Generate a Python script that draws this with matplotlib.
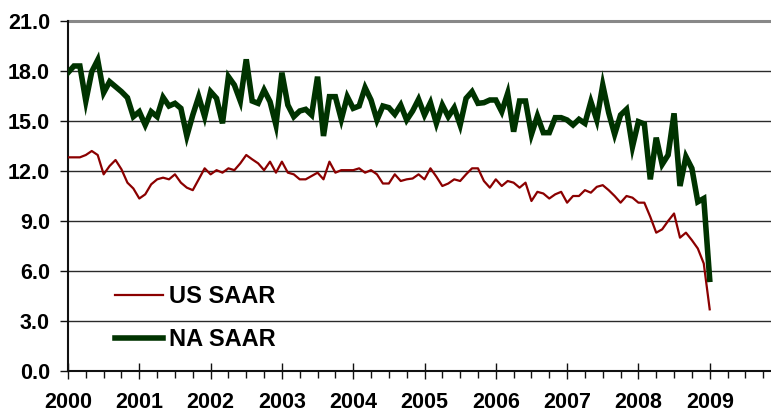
import matplotlib
matplotlib.use("Agg")
import matplotlib.pyplot as plt
import numpy as np
from matplotlib.ticker import MultipleLocator, FormatStrFormatter

plt.rcParams['font.family'] = ['Liberation Sans', 'DejaVu Sans']

# Monthly data, Jan 2000 .. Jan 2009 (millions of units, SAAR)
start_year = 2000
na_saar = [
    17.9, 18.3, 18.3, 16.2, 17.96, 18.66, 16.7, 17.36, 17.06, 16.76, 16.4, 15.26,
    15.56, 14.76, 15.56, 15.26, 16.42, 15.9, 16.06, 15.76, 14.1, 15.36, 16.46, 15.26,
    16.76, 16.36, 14.86, 17.66, 17.16, 16.2, 18.7, 16.2, 16.06, 16.86, 16.16, 14.76,
    17.9, 15.96, 15.26, 15.6, 15.7, 15.36, 17.66, 14.1, 16.46, 16.46, 15.1, 16.46,
    15.76, 15.9, 17.0, 16.26, 15.06, 15.9, 15.8, 15.4, 15.96, 15.06, 15.6, 16.3,
    15.36, 16.1, 14.86, 15.96, 15.26, 15.8, 14.76, 16.36, 16.76, 16.06, 16.1, 16.26,
    16.26, 15.56, 16.66, 14.36, 16.2, 16.2, 14.2, 15.3, 14.3, 14.3, 15.2, 15.2,
    15.06, 14.76, 15.1, 14.86, 16.16, 15.06, 17.16, 15.5, 14.2, 15.36, 15.7, 13.45,
    14.96, 14.82, 11.5, 14.0, 12.4, 12.96, 15.46, 11.1, 12.86, 12.16, 10.15, 10.35,
    5.5,
]
us_saar = [
    12.82, 12.82, 12.82, 12.96, 13.2, 12.96, 11.8, 12.3, 12.66, 12.1, 11.3, 10.95,
    10.35, 10.6, 11.2, 11.5, 11.6, 11.5, 11.8, 11.3, 11.0, 10.85, 11.5, 12.16,
    11.8, 12.05, 11.9, 12.16, 12.05, 12.46, 12.96, 12.7, 12.46, 12.05, 12.56, 11.9,
    12.56, 11.9, 11.8, 11.5, 11.5, 11.7, 11.9, 11.5, 12.56, 11.9, 12.05, 12.05,
    12.05, 12.16, 11.9, 12.05, 11.8, 11.25, 11.25, 11.8, 11.4, 11.5, 11.55, 11.8,
    11.5, 12.16, 11.66, 11.1, 11.25, 11.5, 11.4, 11.8, 12.16, 12.16, 11.4, 11.0,
    11.5, 11.1, 11.4, 11.3, 11.0, 11.3, 10.2, 10.75, 10.65, 10.35, 10.6, 10.75,
    10.1, 10.5, 10.5, 10.85, 10.7, 11.05, 11.15, 10.85, 10.5, 10.1, 10.5, 10.4,
    10.1, 10.1, 9.25, 8.3, 8.5, 9.0, 9.45, 8.0, 8.3, 7.85, 7.35, 6.45,
    3.7,
]
year_ticks = list(range(2000, 2010))
series_labels = ["US SAAR", "NA SAAR"]

x = start_year + np.arange(len(na_saar)) / 12.0

W, H = 771, 412
fig = plt.figure(figsize=(W / 100, H / 100), dpi=100)
ax = fig.add_axes([68 / W, (H - 371) / H, 1 - 68 / W, (371 - 21) / H])

# gridlines
for yv in np.arange(3, 21, 3):
    ax.axhline(yv, color='#2a2a2a', lw=1.0, zorder=1)
ax.axhline(21, color='#888888', lw=2.2, zorder=1, clip_on=False)

ax.plot(x, us_saar, color='#8B0000', lw=1.6, label=series_labels[0], zorder=3)
ax.plot(x, na_saar, color='#003300', lw=4.0, label=series_labels[1], zorder=3,
        solid_joinstyle='miter')

ax.set_xlim(2000, 2000 + (771 - 68) / 71.3)
ax.set_ylim(0, 21)

ax.yaxis.set_major_locator(MultipleLocator(3))
ax.yaxis.set_major_formatter(FormatStrFormatter('%.1f'))
ax.set_xticks(year_ticks)
ax.set_xticklabels([str(y) for y in year_ticks])
ax.xaxis.set_minor_locator(MultipleLocator(0.25))

for s in ['top', 'right']:
    ax.spines[s].set_visible(False)
ax.spines['left'].set_linewidth(1.5)
ax.spines['bottom'].set_linewidth(1.5)
ax.spines['left'].set_color('#111111')
ax.spines['bottom'].set_color('#111111')

ax.tick_params(axis='y', which='major', direction='out', length=6, width=1.0,
               labelsize=15.5, pad=7, colors='#111111')
ax.tick_params(axis='x', which='major', direction='inout', length=12, width=1.0,
               labelsize=15.5, pad=9, colors='#111111')
ax.tick_params(axis='x', which='minor', direction='out', length=5, width=1.0,
               colors='#111111')
for lbl in ax.get_xticklabels() + ax.get_yticklabels():
    lbl.set_fontweight('bold')
    lbl.set_color('black')

leg = ax.legend(loc='upper left', bbox_to_anchor=(115 / W, 1 - 285 / H),
                bbox_transform=fig.transFigure, frameon=False,
                prop={'size': 17, 'weight': 'bold'}, handlelength=2.05,
                handletextpad=0.25, labelspacing=0.85, borderpad=0,
                borderaxespad=0)

fig.savefig('out.png', dpi=100)
